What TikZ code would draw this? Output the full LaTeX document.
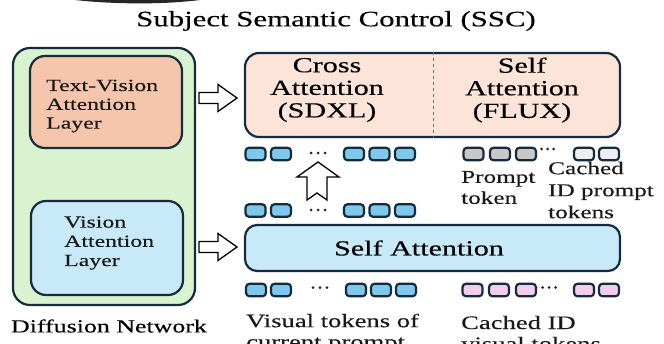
\documentclass[tikz,border=0pt]{standalone}
\usepackage{fontspec}
\setmainfont{Liberation Serif}[FakeStretch=1.4,FakeBold=0.3]
\definecolor{edge}{RGB}{22,44,62}
\definecolor{netgreen}{RGB}{217,242,208}
\definecolor{tvorange}{RGB}{245,198,172}
\definecolor{peach}{RGB}{252,228,216}
\definecolor{lblue}{RGB}{200,233,248}
\definecolor{tokblue}{RGB}{125,200,235}
\definecolor{tokgray}{RGB}{200,200,200}
\definecolor{toklight}{RGB}{238,238,238}
\definecolor{tokpink}{RGB}{242,206,236}
\begin{document}
\begin{tikzpicture}[x=1pt,y=-1pt,
  box/.style={draw=edge, line width=2.2pt, rectangle, rounded corners=#1, inner sep=0pt},
  box/.default=14pt,
  tok/.style={draw=edge, line width=2.2pt, rectangle, rounded corners=3.5pt, minimum width=20pt, minimum height=12.5pt, inner sep=0pt},
  lbl/.style={align=left, anchor=west, inner sep=0pt, text=black!90},
  hollow/.style={draw=black, line width=1.3pt, fill=white, line join=miter},
  dot/.style={fill=black!85}
]
\useasboundingbox (0,0) rectangle (664,343);
% dark arc at top edge
\fill[black!85] (75,0) .. controls (115,4.5) and (165,4.5) .. (200,0) -- cycle;

% title
\node[inner sep=0pt, font=\fontsize{22}{24}\selectfont] (title) at (336,21) {Subject Semantic Control (SSC)};

% diffusion network
\node[box=17pt, fill=netgreen, minimum width=182pt, minimum height=257pt] (net) at (104,176.5) {};
\node[box=15pt, fill=tvorange, minimum width=152pt, minimum height=92pt] (tv) at (106,102) {};
\node[lbl, font=\fontsize{17}{18.8}\selectfont] (tvt) at (46,106) {Text-Vision\\Attention\\Layer};
\node[box=15pt, fill=lblue, minimum width=152pt, minimum height=94pt] (va) at (107,248) {};
\node[lbl, font=\fontsize{17}{19.2}\selectfont] (vat) at (64,243) {Vision\\Attention\\Layer};
\node[inner sep=0pt, font=\fontsize{18.5}{20}\selectfont] (netl) at (109,326) {Diffusion Network};

% top attention box
\node[box=14pt, fill=peach, minimum width=375pt, minimum height=84pt] (top) at (432.5,95) {};
\draw[black!55, dashed, line width=0.6pt] (top.north -| 433,0) -- (top.south -| 433,0);
\node[inner sep=0pt, align=center, font=\fontsize{21.5}{22.6}\selectfont] (cross) at (327,90) {Cross\\Attention\\(SDXL)};
\node[inner sep=0pt, align=center, font=\fontsize{21.5}{22.6}\selectfont] (selfx) at (522,90) {Self\\Attention\\(FLUX)};

% self attention box
\node[box=12pt, fill=lblue, minimum width=375pt, minimum height=46pt] (sa) at (432.5,248) {};
\node[inner sep=0pt, font=\fontsize{21.5}{23}\selectfont] (sat) at (419,248) {Self Attention};

% horizontal hollow arrows
\draw[hollow] (199,92.5) -- (218,92.5) -- (218,84.5) -- (237,98) -- (218,111.5) -- (218,103.5) -- (199,103.5) -- cycle;
\draw[hollow] (199,241.5) -- (218,241.5) -- (218,233.5) -- (237,247) -- (218,260.5) -- (218,252.5) -- (199,252.5) -- cycle;
% up hollow arrow
\draw[hollow] (318,162) -- (339,177) -- (327,177) -- (327,200) -- (317,193) -- (307,200) -- (307,177) -- (297,177) -- cycle;

% token row 1 (above arrow)
\foreach \x/\n in {255.5/a1,281/a2,354/a3,379.5/a4,405/a5}{
  \node[tok, fill=tokblue] (r1\n) at (\x,154) {};}
\foreach \x in {311,318,325}{\fill[dot] (\x,153) circle (1.5pt);}
\foreach \x/\n in {473.5/g1,500/g2,526/g3}{
  \node[tok, fill=tokgray] (r1\n) at (\x,154) {};}
\foreach \x in {541.5,547.5,553.5}{\fill[dot] (\x,149) circle (1.5pt);}
\foreach \x/\n in {584/c1,609/c2}{
  \node[tok, fill=toklight] (r1\n) at (\x,154) {};}

% token row 2 (input to self attention)
\foreach \x/\n in {255.5/a1,281/a2,354/a3,379.5/a4,405/a5}{
  \node[tok, fill=tokblue] (r2\n) at (\x,210.5) {};}
\foreach \x in {311,318,325}{\fill[dot] (\x,210) circle (1.5pt);}

% token row 3 (below self attention)
\foreach \x/\n in {256/a1,281/a2,356/a3,381/a4,406/a5}{
  \node[tok, fill=tokblue] (r3\n) at (\x,290) {};}
\foreach \x in {313,320,327}{\fill[dot] (\x,287.5) circle (1.5pt);}
\foreach \x/\n in {472.5/p1,499/p2,526/p3,584/p4,609/p5}{
  \node[tok, fill=tokpink] (r3\n) at (\x,290) {};}
\foreach \x in {542.5,549,555.5}{\fill[dot] (\x,287.5) circle (1.5pt);}

% labels
\node[lbl, font=\fontsize{18}{21}\selectfont] (pt) at (461,187.5) {Prompt\\token};
\node[lbl, font=\fontsize{18}{22}\selectfont] (cpt) at (548,190) {Cached\\ID prompt\\tokens};
\node[lbl, font=\fontsize{19}{21}\selectfont] (vt) at (246,333) {Visual tokens of\\current prompt};
\node[lbl, font=\fontsize{19}{21}\selectfont] (cvt) at (461,333) {Cached ID\\visual tokens};
\end{tikzpicture}
\end{document}
